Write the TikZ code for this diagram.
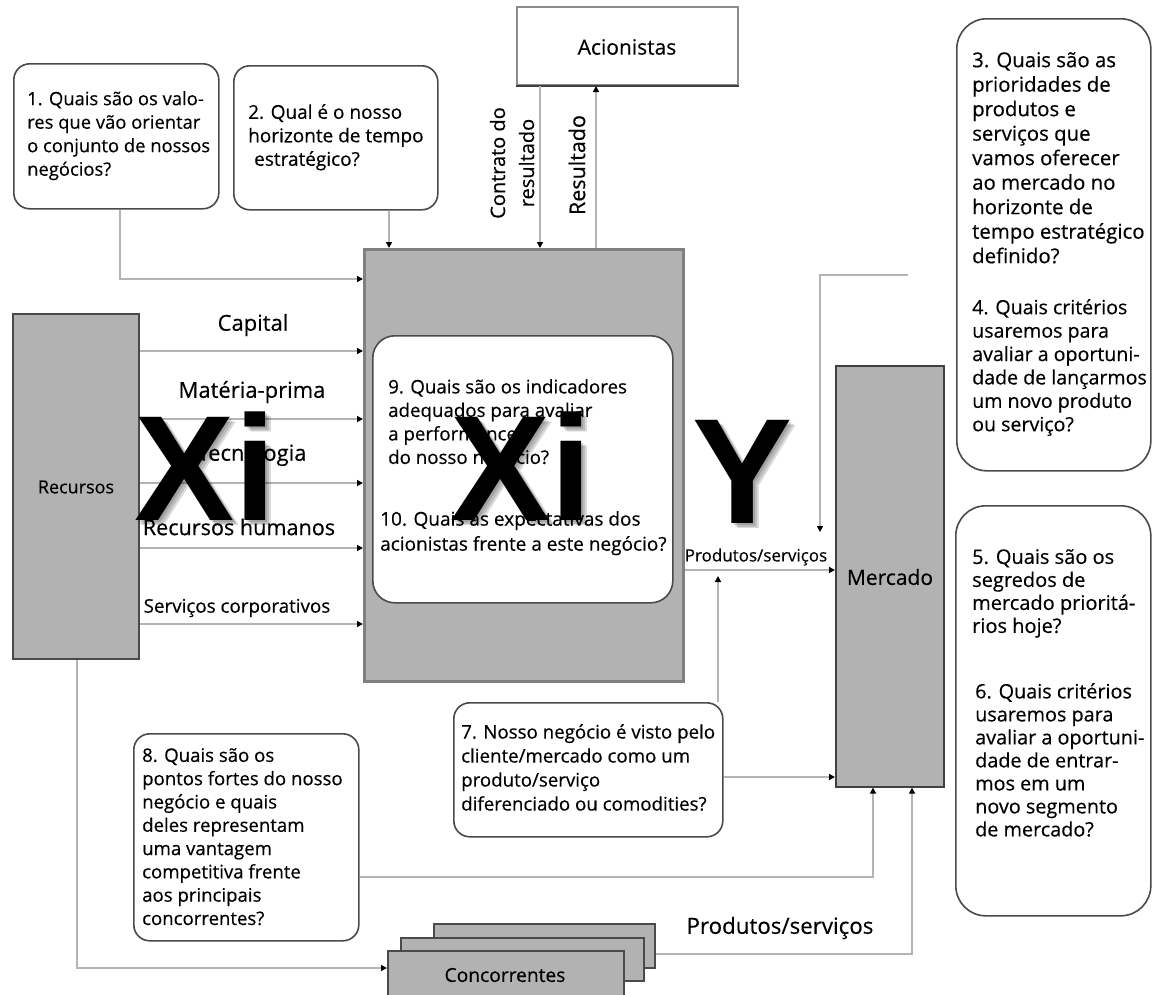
\documentclass[tikz,border=0pt]{standalone}
\usepackage{fontspec}
\setmainfont{Open Sans}[FakeBold=0.4]
\newfontfamily\bigfont{Liberation Sans}
\usetikzlibrary{arrows.meta}
\definecolor{boxgray}{HTML}{B2B2B2}
\definecolor{linegray}{HTML}{B4B4B4}
\definecolor{edgedark}{HTML}{4A4A4A}
\begin{document}
\begin{tikzpicture}[x=1pt,y=-1pt,
  conn/.style={draw=linegray, line width=2pt, -{Triangle[black,length=6pt,width=6pt]}},
  qbox/.style={draw=edgedark, line width=1.6pt, fill=white, rounded corners=16pt, inner sep=0pt, anchor=north west},
  gbox/.style={draw=edgedark, line width=1.6pt, fill=boxgray, inner sep=0pt, anchor=north west},
  qtext/.style={anchor=north west, inner sep=0pt, align=left},
  small/.style={font=\fontsize{18.6}{23.5}\selectfont},
  large/.style={font=\fontsize{20.4}{24.5}\selectfont},
  lbl/.style={inner sep=0pt, font=\fontsize{22}{26}\selectfont},
  boxlbl/.style={inner sep=0pt, font=\fontsize{21}{24}\selectfont},
  bigletters/.style={anchor=base west, inner sep=0pt, font=\bigfont\bfseries\fontsize{150}{150}\selectfont},
  shade/.style={bigletters, text=black, opacity=0.14}
]
\clip (0,0) rectangle (1153,994);
\fill[white] (0,0) rectangle (1153,994);

% question boxes
\node[qbox, minimum width=205pt, minimum height=145pt] (b1) at (13,63) {};
\node[qbox, minimum width=204pt, minimum height=144pt] (b2) at (233,65) {};
\node[qbox, rounded corners=30pt, minimum width=194pt, minimum height=452pt] (b3) at (956,18) {};
\node[qbox, rounded corners=30pt, minimum width=195pt, minimum height=410pt] (b5) at (955,505) {};
\node[qbox, minimum width=269pt, minimum height=134pt] (b7) at (453,702) {};
\node[qbox, minimum width=225pt, minimum height=207pt] (b8) at (133,733) {};

% main blocks
\node[gbox, minimum width=126pt, minimum height=345pt] (rec) at (12,313) {};
\node[gbox, draw=black!50, line width=2.5pt, minimum width=319pt, minimum height=432pt] (cen) at (363,248) {};
\node[qbox, rounded corners=22pt, minimum width=300pt, minimum height=267pt] (inner) at (372,335) {};
\node[gbox, draw=black!75, minimum width=108pt, minimum height=421pt] (merc) at (835,365) {};
\node[gbox, fill=white, draw=black!45, line width=2pt, minimum width=221pt, minimum height=78pt] (acion) at (516,6) {};
\draw[black!75, line width=2pt] (acion.south west) -- (acion.south east);

% competitors, stacked
\node[gbox, minimum width=221pt, minimum height=44pt] (cc3) at (433,923) {};
\node[gbox, minimum width=243pt, minimum height=43pt] (cc2) at (400,937) {};
\node[gbox, minimum width=236pt, minimum height=60pt] (cc1) at (387,950) {};

% block labels
\node[boxlbl, font=\fontsize{18}{21}\selectfont] (lrec) at (76,487) {Recursos};
\node[boxlbl] (lacion) at (627,47) {Acionistas};
\node[boxlbl] (lmerc) at (890,577) {Mercado};
\node[boxlbl, font=\fontsize{19.2}{22}\selectfont] (lconc) at (505,975) {Concorrentes};

% question texts
\node[qtext, small, font=\fontsize{18.4}{23.5}\selectfont] (t1) at (27,91) {1. Quais são os valo-\\res que vão orientar\\o conjunto de nossos\\negócios?};
\node[qtext, small, font=\fontsize{19}{23.5}\selectfont] (t2) at (248,104) {2. Qual é o nosso\\horizonte de tempo\\\hspace*{6pt}estratégico?};
\node[qtext, large] (t3) at (972,52) {3. Quais são as\\prioridades de\\produtos e\\serviços que\\vamos oferecer\\ao mercado no\\horizonte de\\tempo estratégico\\definido?};
\node[qtext, large, font=\fontsize{19.6}{23.4}\selectfont] (t4) at (972,299) {4. Quais critérios\\usaremos para\\avaliar a oportuni-\\dade de lançarmos\\um novo produto\\ou serviço?};
\node[qtext, large, font=\fontsize{20}{23}\selectfont] (t5) at (972,549) {5. Quais são os\\segredos de\\mercado prioritá-\\rios hoje?};
\node[qtext, large, font=\fontsize{19.8}{23}\selectfont] (t6) at (975,683) {6. Quais critérios\\usaremos para\\avaliar a oportuni-\\dade de entrar-\\mos em um\\novo segmento\\de mercado?};
\node[qtext, small, font=\fontsize{18.7}{24}\selectfont] (t7) at (461,724) {7. Nosso negócio é visto pelo\\cliente/mercado como um\\produto/serviço\\diferenciado ou comodities?};
\node[qtext, small, font=\fontsize{18.6}{23.3}\selectfont] (t8) at (142,748) {8. Quais são os\\pontos fortes do nosso\\negócio e quais\\deles representam\\uma vantagem\\competitiva frente\\aos principais\\concorrentes?};
\node[qtext, small, font=\fontsize{18.7}{23.5}\selectfont] (t9) at (388,379) {9. Quais são os indicadores\\adequados para avaliar\\a performance\\do nosso negócio?};
\node[qtext, small, font=\fontsize{19}{25}\selectfont] (t10) at (380,511) {10. Quais as expectativas dos\\acionistas frente a este negócio?};

% flow labels
\node[lbl] (lcap) at (253,325) {Capital};
\node[lbl] (lmat) at (252,392) {Matéria-prima};
\node[lbl] (ltec) at (252,455) {Tecnologia};
\node[lbl, font=\fontsize{21.6}{26}\selectfont] (lrh) at (239,527) {Recursos humanos};
\node[lbl, font=\fontsize{18.8}{22}\selectfont] (lsc) at (237,608) {Serviços corporativos};
\node[lbl, font=\fontsize{17}{20}\selectfont] (lps1) at (756,557) {Produtos/serviços};
\node[lbl, font=\fontsize{22.3}{26}\selectfont] (lps2) at (780,928) {Produtos/serviços};
\node[lbl, rotate=90, align=center, font=\fontsize{20}{29}\selectfont] (lcontr) at (512,163) {Contrato do\\resultado};
\node[lbl, rotate=90, font=\fontsize{21.5}{29}\selectfont] (lres) at (577,165) {Resultado};

% connectors
\coordinate (q3) at (908,275);
\coordinate (q3end) at (820,532);
\coordinate (pjoin) at (718,576);
\draw[conn] (b1.south -| 120,0) |- (cen.west |- 0,279);
\draw[conn] (b2.south -| 389,0) -- (cen.north -| 389,0);
\draw[conn] (acion.south -| 540,0) -- (cen.north -| 540,0);
\draw[conn] (cen.north -| 596,0) -- (acion.south -| 596,0);
\foreach \yy in {351,419,483,548,624}
  \draw[conn] (rec.east |- 0,\yy) -- (cen.west |- 0,\yy);
\draw[conn] (cen.east |- 0,570) -- (merc.west |- 0,570);
\draw[conn] (q3) -| (q3end);
\draw[conn] (b7.north -| 718,0) -- (pjoin);
\draw[conn] (b7.east |- 0,777) -- (merc.west |- 0,777);
\draw[conn] (b8.east |- 0,877) -| (merc.south -| 873,0);
\draw[conn] (cc3.east |- 0,954) -| (merc.south -| 912,0);
\draw[conn] (rec.south -| 77,0) |- (cc1.west |- 0,968);

% overlaid variable symbols with a soft shadow
\foreach \dx/\dy in {2/2,4/4,6/5}{
  \node[shade] (xi1s\dx) at (134+\dx,520+\dy) {Xi};
  \node[shade] (xi2s\dx) at (450+\dx,520+\dy) {Xi};
  \node[shade] (ys\dx) at (692+\dx,523+\dy) {Y};
}
\node[bigletters] (xi1) at (134,520) {Xi};
\node[bigletters] (xi2) at (450,520) {Xi};
\node[bigletters] (yv) at (692,523) {Y};
\end{tikzpicture}
\end{document}
